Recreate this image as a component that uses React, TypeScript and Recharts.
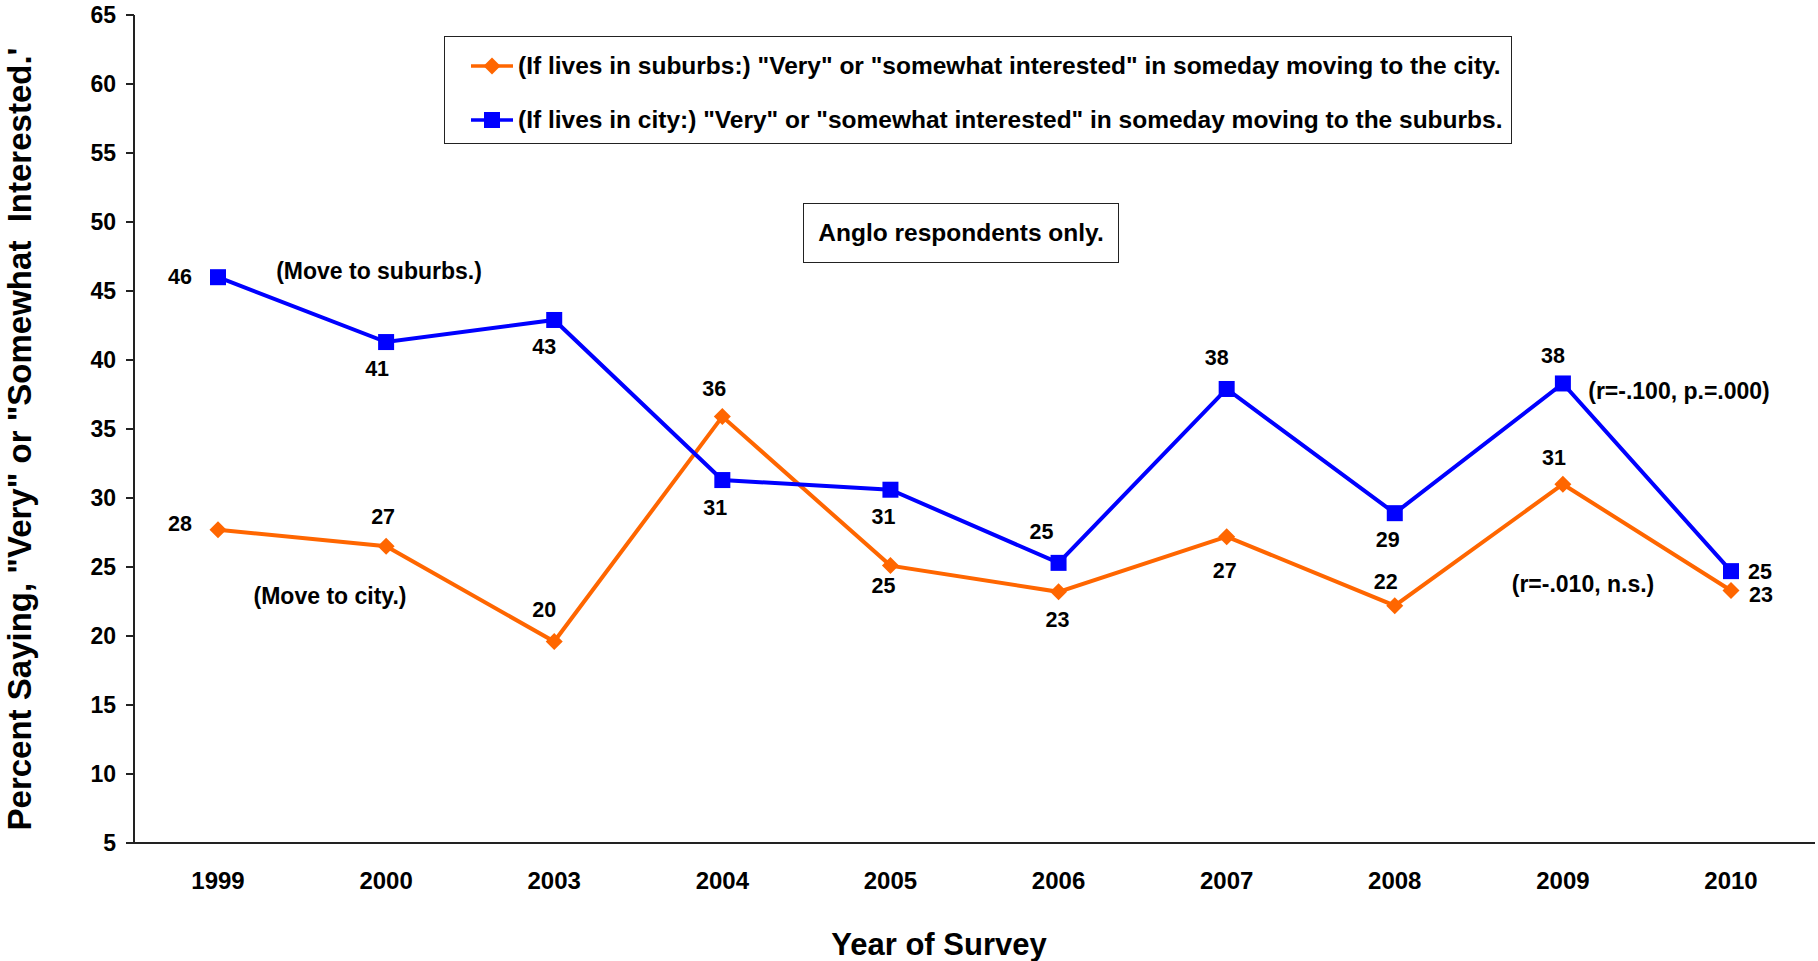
import { LineChart, Line, XAxis, YAxis } from 'recharts'

const years = ['1999', '2000', '2003', '2004', '2005', '2006', '2007', '2008', '2009', '2010']
const suburbsToCity = [27.7, 26.5, 19.6, 35.9, 25.1, 23.2, 27.2, 22.2, 31.0, 23.3]
const cityToSuburbs = [46.0, 41.3, 42.9, 31.3, 30.6, 25.3, 37.9, 28.9, 38.3, 24.7]
const suburbsToCityLabels = ['28', '27', '20', '36', '25', '23', '27', '22', '31', '23']
const cityToSuburbsLabels = ['46', '41', '43', '31', '31', '25', '38', '29', '38', '25']
const yTicks = [5, 10, 15, 20, 25, 30, 35, 40, 45, 50, 55, 60, 65]

const suburbsName = '(If lives in suburbs:) "Very" or "somewhat interested" in someday moving to the city.'
const cityName = '(If lives in city:) "Very" or "somewhat interested" in someday moving to the suburbs.'

// label offsets (dx, dy) from each point
const orangeOffsets = [[-38, -6], [-3, -29], [-10, -32], [-8, -28], [-7, 20], [-1, 28], [-2, 34], [-9, -24], [-9, -26], [30, 5]]
const blueOffsets = [[-38, 0], [-9, 27], [-10, 27], [-7, 28], [-7, 27], [-17, -31], [-10, -31], [-7, 27], [-10, -27], [29, 1]]

const data = years.map((year, i) => ({
  year,
  suburbs: suburbsToCity[i],
  city: cityToSuburbs[i],
}))

const FONT = '"Liberation Sans", Arial, sans-serif'
const ORANGE = '#FF6600'
const BLUE = '#0000FF'

const makeLabel = (labels: string[], offsets: number[][]) => (p: any) => {
  const [dx, dy] = offsets[p.index]
  return (
    <text
      key={`l${p.index}`}
      x={p.x + dx}
      y={p.y + dy}
      textAnchor="middle"
      dominantBaseline="central"
      fontFamily={FONT}
      fontWeight="bold"
      fontSize={21.5}
      fill="#000"
    >
      {labels[p.index]}
    </text>
  )
}

const Diamond = (p: any) => (
  <path
    key={`d${p.index}`}
    d={`M${p.cx},${p.cy - 8.5} L${p.cx + 8.5},${p.cy} L${p.cx},${p.cy + 8.5} L${p.cx - 8.5},${p.cy} Z`}
    fill={ORANGE}
  />
)

const Square = (p: any) => (
  <rect key={`s${p.index}`} x={p.cx - 8} y={p.cy - 8} width={16} height={16} fill={BLUE} />
)

const note = (text: string, x: number, y: number, size = 23) => (
  <div
    style={{
      position: 'absolute',
      left: x,
      top: y,
      transform: 'translate(-50%, -50%)',
      fontSize: size,
      whiteSpace: 'nowrap',
    }}
  >
    {text}
  </div>
)

const legendRow = (color: string, marker: 'diamond' | 'square', text: string) => (
  <div style={{ display: 'flex', alignItems: 'center', height: 28 }}>
    <svg width={42} height={20} style={{ marginRight: 5, flex: 'none' }}>
      <line x1={0} y1={10} x2={42} y2={10} stroke={color} strokeWidth={3.5} />
      {marker === 'diamond' ? (
        <path d="M21,1.5 L29.5,10 L21,18.5 L12.5,10 Z" fill={color} />
      ) : (
        <rect x={13} y={2} width={16} height={16} fill={color} />
      )}
    </svg>
    <span style={{ whiteSpace: 'nowrap' }}>{text}</span>
  </div>
)

export default function App() {
  return (
    <div
      style={{
        position: 'absolute',
        left: 0,
        top: 0,
        width: 1818,
        height: 961,
        background: '#fff',
        fontFamily: FONT,
        fontWeight: 'bold',
        color: '#000',
      }}
    >
      <LineChart width={1818} height={961} data={data} margin={{ top: 15, right: 3, bottom: 0, left: 0 }}>
        <XAxis
          dataKey="year"
          padding={{ left: 84, right: 84 }}
          height={118}
          tickLine={false}
          tickSize={0}
          tickMargin={29}
          axisLine={{ stroke: '#222', strokeWidth: 2 }}
          tick={{ fill: '#000', fontSize: 24, fontWeight: 'bold', fontFamily: FONT }}
          interval={0}
        />
        <XAxis xAxisId="top" orientation="top" dataKey="year" height={0} tick={false} tickLine={false} axisLine={{ stroke: '#888', strokeWidth: 1.5 }} />
        <YAxis
          domain={[5, 65]}
          ticks={yTicks}
          interval={0}
          width={134}
          tickSize={8}
          tickMargin={10}
          axisLine={{ stroke: '#222', strokeWidth: 2 }}
          tickLine={{ stroke: '#222', strokeWidth: 2 }}
          tick={{ fill: '#000', fontSize: 23, fontWeight: 'bold', fontFamily: FONT }}
        />
        <YAxis yAxisId="right" orientation="right" domain={[5, 65]} width={0} tick={false} tickLine={false} axisLine={{ stroke: '#888', strokeWidth: 1.5 }} />
        <Line
          dataKey="suburbs"
          name={suburbsName}
          stroke={ORANGE}
          strokeWidth={4}
          dot={Diamond}
          activeDot={false}
          label={makeLabel(suburbsToCityLabels, orangeOffsets)}
          isAnimationActive={false}
        />
        <Line
          dataKey="city"
          name={cityName}
          stroke={BLUE}
          strokeWidth={4}
          dot={Square}
          activeDot={false}
          label={makeLabel(cityToSuburbsLabels, blueOffsets)}
          isAnimationActive={false}
        />
      </LineChart>

      <div
        style={{
          position: 'absolute',
          left: 444,
          top: 36,
          width: 1068,
          height: 108,
          border: '1.5px solid #222',
          boxSizing: 'border-box',
          fontSize: 24.5,
          padding: '15px 0 0 26px',
          background: '#fff',
        }}
      >
        {legendRow(ORANGE, 'diamond', suburbsName)}
        <div style={{ height: 26 }} />
        {legendRow(BLUE, 'square', cityName)}
      </div>

      <div
        style={{
          position: 'absolute',
          left: 803,
          top: 203,
          width: 316,
          height: 60,
          border: '1.5px solid #222',
          boxSizing: 'border-box',
          display: 'flex',
          alignItems: 'center',
          justifyContent: 'center',
          fontSize: 24.5,
        }}
      >
        Anglo respondents only.
      </div>

      {note('(Move to suburbs.)', 379, 271)}
      {note('(Move to city.)', 330, 596)}
      {note('(r=-.100, p.=.000)', 1679, 391)}
      {note('(r=-.010, n.s.)', 1583, 584)}

      <div
        style={{
          position: 'absolute',
          left: 20,
          top: 439,
          transform: 'translate(-50%, -50%) rotate(-90deg)',
          fontSize: 33,
          whiteSpace: 'pre',
        }}
      >
        {'Percent Saying, "Very" or "Somewhat  Interested.\''}
      </div>
      <div
        style={{
          position: 'absolute',
          left: 939,
          top: 945,
          transform: 'translate(-50%, -50%)',
          fontSize: 31,
          whiteSpace: 'nowrap',
        }}
      >
        Year of Survey
      </div>
    </div>
  )
}
